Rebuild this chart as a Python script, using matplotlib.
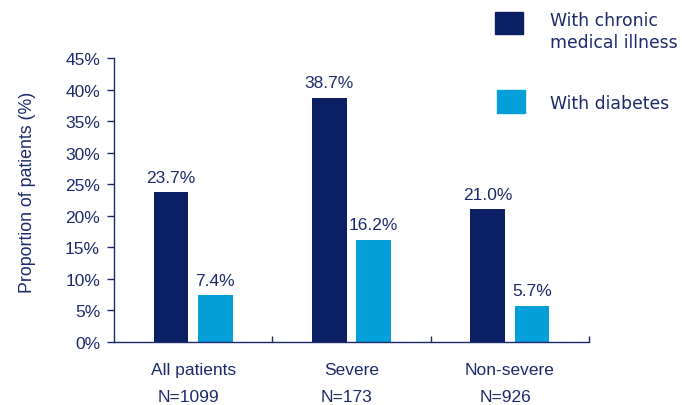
import matplotlib
matplotlib.use("Agg")
import matplotlib.pyplot as plt
from matplotlib.patches import Rectangle
import numpy as np

categories = ["All patients", "Severe", "Non-severe"]
n_labels = ["N=1099", "N=173", "N=926"]
chronic = [23.7, 38.7, 21.0]
diabetes = [7.4, 16.2, 5.7]
series_names = ["With chronic\nmedical illness", "With diabetes"]
yticks = [0, 5, 10, 15, 20, 25, 30, 35, 40, 45]

DARK = "#0b1f64"
LIGHT = "#05a0da"
TXT = "#1c2a6b"
FS = 12.5

plt.rcParams['font.family'] = ['Liberation Sans', 'DejaVu Sans']

fig = plt.figure(figsize=(6.82, 4.06), dpi=100)
ax = fig.add_axes([114/682, 63/406, (589-114)/682, (343-59)/406])

x = np.arange(len(categories))
w = 0.22
off = 0.14
ax.bar(x - off, chronic, w, color=DARK)
ax.bar(x + off, diabetes, w, color=LIGHT)
for xi, v in zip(x - off, chronic):
    ax.text(xi, v + 1.7, f"{v:.1f}%", ha="center", va="baseline", fontsize=FS, color=TXT)
for xi, v in zip(x + off, diabetes):
    ax.text(xi, v + 1.7, f"{v:.1f}%", ha="center", va="baseline", fontsize=FS, color=TXT)

ax.set_xlim(-0.5, 2.5)
ax.set_ylim(0, 45)
ax.set_yticks(yticks)
ax.set_yticklabels([f"{t}%" for t in yticks], fontsize=FS, color=TXT)
ax.tick_params(axis="y", direction="out", length=5, color=TXT, width=1, pad=5)
ax.set_xticks([0.5, 1.5, 2.5])
ax.set_xticklabels([])
ax.tick_params(axis="x", direction="in", length=4, color=TXT, width=1)
for s in ["top", "right"]:
    ax.spines[s].set_visible(False)
for s in ["left", "bottom"]:
    ax.spines[s].set_color(TXT)
    ax.spines[s].set_linewidth(1)

for xi, c, n in zip(x, categories, n_labels):
    ax.text(xi, -3.1, c, ha="center", va="top", fontsize=FS, color=TXT)
    ax.text(xi - 0.03, -7.4, n, ha="center", va="top", fontsize=FS, color=TXT)

ax.set_ylabel("Proportion of patients (%)", fontsize=12.8, color=TXT)
ax.yaxis.set_label_coords(-0.165, 0.53)

# legend (manual)
fig.patches.append(Rectangle((495/682, 1 - 35/406), 28/682, 22/406, transform=fig.transFigure, color=DARK))
fig.patches.append(Rectangle((497/682, 1 - 114/406), 28/682, 23/406, transform=fig.transFigure, color=LIGHT))
fig.text(550/682, 1 - 32/406, series_names[0], fontsize=12.4, color=TXT, va="center", ha="left",
         family="DejaVu Sans", linespacing=1.3)
fig.text(550/682, 1 - 104/406, series_names[1], fontsize=12.4, color=TXT, va="center", ha="left",
         family="DejaVu Sans")

fig.savefig("out.png", dpi=100)
